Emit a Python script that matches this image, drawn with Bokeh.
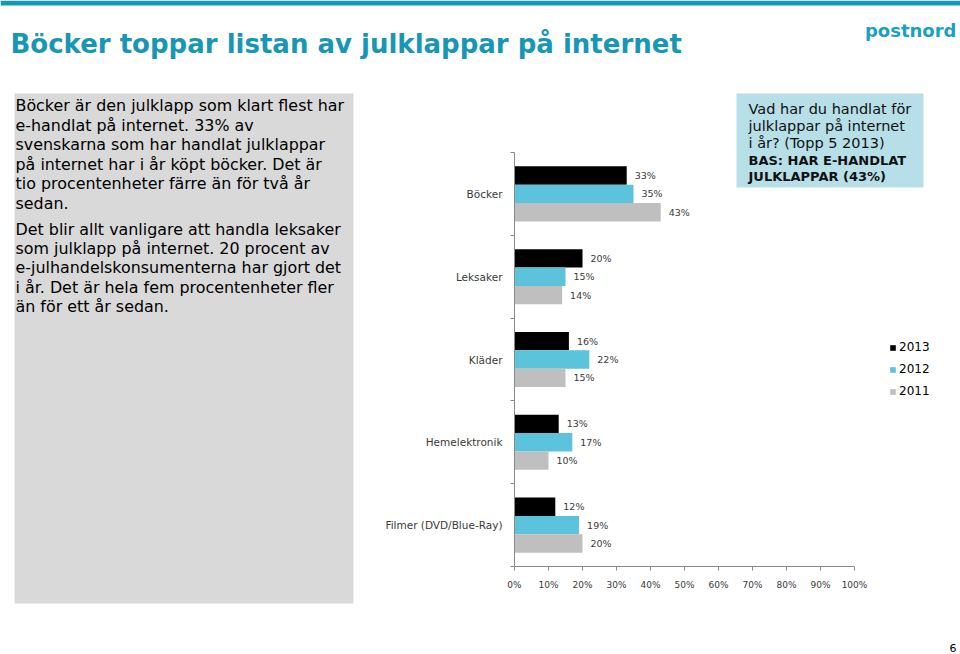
from bokeh.plotting import figure
from bokeh.models import (Range1d, FixedTicker, PrintfTickFormatter, LabelSet, Label,
                          BoxAnnotation, Legend, LegendItem, ColumnDataSource)
from bokeh.core.properties import value
from bokeh.embed import file_html
from bokeh.resources import INLINE

# ---------------- data ----------------
categories = ["Böcker", "Leksaker", "Kläder", "Hemelektronik", "Filmer (DVD/Blue-Ray)"]
years = ["2013", "2012", "2011"]
v2013 = [33, 20, 16, 13, 12]
v2012 = [35, 15, 22, 17, 19]
v2011 = [43, 14, 15, 10, 20]
x_ticks = [0, 10, 20, 30, 40, 50, 60, 70, 80, 90, 100]

title_text = "Böcker toppar listan av julklappar på internet"
logo_text = "postnord"
page_no = "6"
para1 = ["Böcker är den julklapp som klart flest har",
         "e-handlat på internet. 33% av",
         "svenskarna som har handlat julklappar",
         "på internet har i år köpt böcker. Det är",
         "tio procentenheter färre än för två år",
         "sedan."]
para2 = ["Det blir allt vanligare att handla leksaker",
         "som julklapp på internet. 20 procent av",
         "e-julhandelskonsumenterna har gjort det",
         "i år. Det är hela fem procentenheter fler",
         "än för ett år sedan."]
question = ["Vad har du handlat för", "julklappar på internet", "i år? (Topp 5 2013)"]
base = ["BAS: HAR E-HANDLAT", "JULKLAPPAR (43%)"]

# ---------------- styling / layout ----------------
FONT = "DejaVu Sans"
TEAL = "#1896b6"
C2013, C2012, C2011 = "#000000", "#5bc4dc", "#bfbfbf"
AXIS = "#8a8a8a"
TXT = "#3a3a3a"

W, H = 960, 654
# pixel placement of the plot area (x: 0..100 %, y: 0..n categories)
PX0, PX1 = 514, 854
PY_TOP, PY_BOT = 152, 566
n = len(categories)
kx = (PX1 - PX0) / 100.0
ky = (PY_BOT - PY_TOP) / float(n)

def sx(rx):
    return rx

def sy(ry):
    return H - ry

p = figure(width=W, height=H, output_backend="svg", toolbar_location=None, title=None,
           x_range=Range1d(-PX0 / kx, (W - PX0) / kx),
           y_range=Range1d(-(H - PY_BOT) / ky, PY_BOT / ky),
           min_border=0, min_border_left=0, min_border_right=0,
           min_border_top=0, min_border_bottom=0)
p.outline_line_color = None
p.xgrid.visible = False
p.ygrid.visible = False
p.background_fill_color = "white"
p.border_fill_color = "white"

# ---------------- background boxes ----------------
def box(l, r, t, b, color):
    p.add_layout(BoxAnnotation(left=sx(l), right=sx(r), top=sy(t), bottom=sy(b),
                               left_units="screen", right_units="screen",
                               top_units="screen", bottom_units="screen",
                               fill_color=color, fill_alpha=1, line_color=None,
                               level="underlay"))

box(0, W, 0, 5, "#1598b2")
box(14, 353, 93, 603, "#d9d9d9")
box(736, 923, 93, 187, "#b7dfe8")

# ---------------- bars ----------------
centers = [n - i - 0.5 for i in range(n)]
bh = 0.222
series = [(years[0], v2013, C2013, bh), (years[1], v2012, C2012, 0.0), (years[2], v2011, C2011, -bh)]
renderers = []
for yr, vals, col, off in series:
    src = ColumnDataSource(dict(y=[c + off for c in centers], v=vals,
                                lab=[f"{v}%" for v in vals]))
    r = p.hbar(y="y", left=0, right="v", height=bh, source=src,
               fill_color=col, line_color=None)
    renderers.append(r)
    p.add_layout(LabelSet(x="v", y="y", text="lab", source=src, x_offset=8,
                          text_baseline="middle", text_align="left",
                          text_font=value(FONT), text_font_size="9.5px", text_color=TXT))

# ---------------- axes ----------------
xa = p.xaxis[0]
xa.fixed_location = 0
xa.bounds = (0, 100)
xa.ticker = FixedTicker(ticks=x_ticks)
xa.formatter = PrintfTickFormatter(format="%d%%")
xa.axis_line_color = AXIS
xa.major_tick_line_color = AXIS
xa.major_tick_out = 4
xa.major_tick_in = 0
xa.minor_tick_line_color = None
xa.major_label_standoff = 9
xa.major_label_text_font = FONT
xa.major_label_text_font_size = "9px"
xa.major_label_text_color = TXT

ya = p.yaxis[0]
ya.fixed_location = 0
ya.bounds = (0, n)
ya.ticker = FixedTicker(ticks=centers, minor_ticks=list(range(n + 1)))
ya.major_label_overrides = {c: cat for c, cat in zip(centers, categories)}
ya.axis_line_color = AXIS
ya.major_tick_line_color = None
ya.major_tick_out = 0
ya.major_tick_in = 0
ya.minor_tick_line_color = AXIS
ya.minor_tick_out = 4
ya.minor_tick_in = 0
ya.major_label_standoff = 8
ya.major_label_text_font = FONT
ya.major_label_text_font_size = "10.5px"
ya.major_label_text_color = TXT

# ---------------- legend ----------------
legend = Legend(items=[LegendItem(label=yr, renderers=[r]) for yr, r in zip(years, renderers)],
                location=(sx(889), sy(398)), orientation="vertical",
                glyph_width=7, glyph_height=7, label_standoff=3, label_height=14,
                spacing=8, padding=0, margin=0, border_line_color=None,
                background_fill_alpha=0, label_text_font=FONT,
                label_text_font_size="12px", label_text_color="#000000")
p.add_layout(legend)

# ---------------- texts ----------------
def lab(t, rx, ry, size, color="#000000", bold=False, align="left"):
    p.add_layout(Label(x=sx(rx), y=sy(ry), x_units="screen", y_units="screen", text=t,
                       text_font=FONT, text_font_size=size, text_color=color,
                       text_font_style="bold" if bold else "normal",
                       text_align=align, text_baseline="middle"))

lab(title_text, 10, 43.5, "26px", TEAL, bold=True)
lab(logo_text, 956, 30, "18px", "#1a9fca", bold=True, align="right")
lab(page_no, 956, 647, "11px", "#000000", align="right")

for i, t in enumerate(para1):
    lab(t, 15, 105 + 19.6 * i, "15.9px")
for i, t in enumerate(para2):
    lab(t, 15, 228.5 + 19.4 * i, "15.9px")

for i, t in enumerate(question):
    lab(t, 748, 108 + 17.3 * i, "14.5px", "#111111")
for i, t in enumerate(base):
    lab(t, 748, 159.5 + 16.7 * i, "13px", "#111111", bold=True)

html = file_html(p, INLINE)
open("out.html", "w").write(html)
